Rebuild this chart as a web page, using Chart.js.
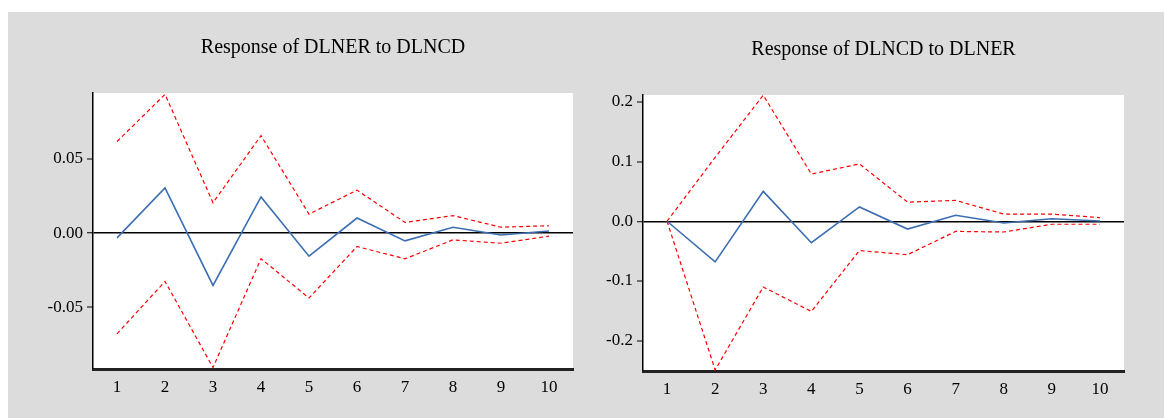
<!DOCTYPE html>
<html>
<head>
<meta charset="utf-8">
<script src="https://cdn.jsdelivr.net/npm/chart.js@4/dist/chart.umd.min.js"></script>
<style>
  html, body { margin: 0; padding: 0; background: #fff; }
  body { width: 1164px; height: 418px; position: relative; overflow: hidden; }
  #bg { position: absolute; left: 8px; top: 12px; right: 0; bottom: 0; background: #dcdcdc; }
  canvas { position: absolute; top: 0; }
  #c1 { left: 0; }
  #c2 { left: 582px; }
</style>
</head>
<body>
<div id="bg"></div>
<canvas id="c1" width="582" height="418"></canvas>
<canvas id="c2" width="582" height="418"></canvas>
<script>
// periods
var periods = ['1', '2', '3', '4', '5', '6', '7', '8', '9', '10'];

// Response of DLNER to DLNCD
var nerResp  = [-0.0032, 0.0305, -0.0352, 0.0244, -0.0155, 0.0102, -0.0052, 0.0040, -0.0012, 0.0014];
var nerUpper = [0.0617, 0.0935, 0.0205, 0.0657, 0.0128, 0.0290, 0.0072, 0.0118, 0.0040, 0.0050];
var nerLower = [-0.0678, -0.0325, -0.0905, -0.0172, -0.0437, -0.0090, -0.0173, -0.0045, -0.0068, -0.0020];
var nerTicks = [-0.05, 0, 0.05];
var nerRange = [-0.0915, 0.0944];

// Response of DLNCD to DLNER
var ncdResp  = [0, -0.0680, 0.0500, -0.0360, 0.0240, -0.0130, 0.0100, -0.0030, 0.0042, 0.0005];
var ncdUpper = [0, 0.107, 0.211, 0.079, 0.096, 0.032, 0.035, 0.012, 0.012, 0.006];
var ncdLower = [0, -0.249, -0.110, -0.151, -0.049, -0.056, -0.017, -0.018, -0.005, -0.005];
var ncdTicks = [-0.2, -0.1, 0, 0.1, 0.2];
var ncdRange = [-0.2507, 0.2114];

var serif = 'Liberation Serif';

// white plot area
var plotBg = {
  id: 'plotBg',
  beforeDraw: function (chart) {
    var a = chart.chartArea, c = chart.ctx;
    c.save();
    c.fillStyle = '#ffffff';
    c.fillRect(a.left, a.top, a.right - a.left, a.bottom - a.top);
    c.restore();
  }
};

function makeChart(id, title, resp, upper, lower, ticks, range, decimals, lay) {
  var band = { borderColor: '#ff0000', borderWidth: 1.2, borderDash: [4, 3], pointRadius: 0, tension: 0, fill: false };
  return new Chart(document.getElementById(id), {
    type: 'line',
    data: {
      labels: periods,
      datasets: [
        Object.assign({ data: upper }, band),
        Object.assign({ data: lower }, band),
        { data: resp, borderColor: '#3c6eb4', borderWidth: 1.6, pointRadius: 0, tension: 0, fill: false }
      ]
    },
    options: {
      responsive: false,
      animation: false,
      layout: { padding: lay.padding },
      plugins: {
        legend: { display: false },
        tooltip: { enabled: false },
        title: {
          display: true,
          text: title,
          fullSize: false,
          color: '#000',
          font: { family: serif, size: 20, weight: 'normal' },
          padding: lay.titlePad
        }
      },
      scales: {
        x: {
          type: 'category',
          offset: true,
          border: { display: true, color: '#222', width: 3 },
          grid: { offset: true, drawOnChartArea: false, drawTicks: true, tickLength: 2, tickColor: '#aaa', tickWidth: 1 },
          ticks: { color: '#000', font: { family: serif, size: 17 }, padding: 6, maxRotation: 0, autoSkip: false },
          afterFit: function (s) { s.height = 40; }
        },
        y: {
          min: range[0],
          max: range[1],
          border: { display: true, color: '#000', width: 1.5 },
          grid: {
            drawOnChartArea: true,
            drawTicks: true,
            tickLength: 6,
            tickColor: '#000',
            tickWidth: 1,
            color: function (ctx) { return ctx.tick && ctx.tick.value === 0 ? '#000' : 'rgba(0,0,0,0)'; },
            lineWidth: function (ctx) { return ctx.tick && ctx.tick.value === 0 ? 1.5 : 0; }
          },
          afterBuildTicks: function (s) { s.ticks = ticks.map(function (v) { return { value: v }; }); },
          ticks: {
            color: '#000',
            font: { family: serif, size: 17 },
            padding: 4,
            callback: function (v) { return Number(v).toFixed(decimals); }
          },
          afterFit: function (s) { s.width = lay.yWidth; }
        }
      }
    },
    plugins: [plotBg]
  });
}

makeChart('c1', 'Response of DLNER to DLNCD', nerResp, nerUpper, nerLower, nerTicks, nerRange, 2, {
  padding: { left: 10, right: 9, top: 10, bottom: 9 },
  titlePad: { top: 26, bottom: 33 },
  yWidth: 83
});

makeChart('c2', 'Response of DLNCD to DLNER', ncdResp, ncdUpper, ncdLower, ncdTicks, ncdRange, 1, {
  padding: { left: 0, right: 40, top: 10, bottom: 7 },
  titlePad: { top: 28, bottom: 33 },
  yWidth: 61
});
</script>
</body>
</html>
